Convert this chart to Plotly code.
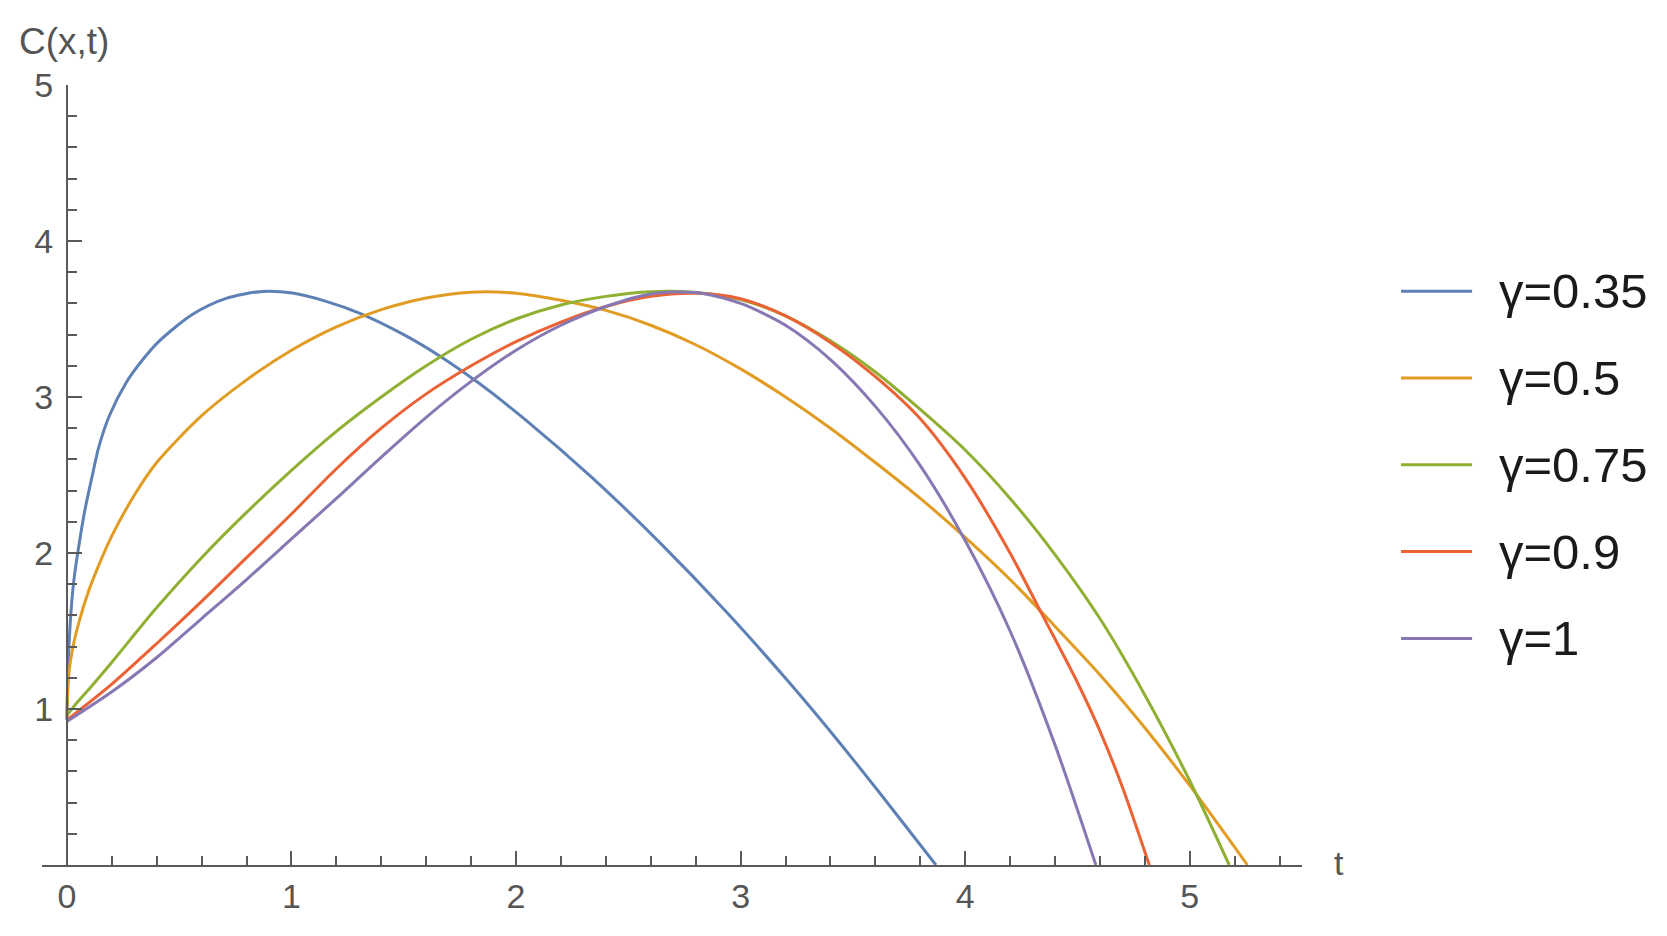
import plotly.graph_objects as go

# ---------------- data ----------------
series_names = ["γ=0.35", "γ=0.5", "γ=0.75", "γ=0.9", "γ=1"]
series_colors = ["#5E81B5", "#E19C24", "#8FB032", "#EB6235", "#8778B3"]

t_g035 = [0, 0.002, 0.006, 0.011, 0.02, 0.033, 0.059, 0.082, 0.112, 0.142, 0.189, 0.263,
          0.338, 0.412, 0.56, 0.709, 0.872, 1.005, 1.154, 1.302, 1.5, 1.658, 1.837, 2.045,
          2.341, 2.638, 2.935, 3.232, 3.43, 3.617, 3.87]
c_g035 = [0.93, 1.1, 1.3, 1.46, 1.66, 1.85, 2.10, 2.29, 2.49, 2.68, 2.88, 3.09,
          3.24, 3.36, 3.53, 3.632, 3.677, 3.666, 3.613, 3.538, 3.40, 3.265, 3.086, 2.85,
          2.48, 2.07, 1.625, 1.144, 0.803, 0.466, 0]

t_g05 = [0, 0.003, 0.012, 0.03, 0.056, 0.1, 0.15, 0.2, 0.3, 0.4, 0.6, 0.8, 1.0, 1.2, 1.4,
         1.6, 1.8, 2.0, 2.2, 2.4, 2.6, 2.8, 3.0, 3.2, 3.4, 3.6, 3.8, 4.0, 4.2, 4.4, 4.6,
         4.8, 5.0, 5.257]
c_g05 = [0.95, 1.1, 1.27, 1.42, 1.57, 1.77, 1.95, 2.11, 2.37, 2.58, 2.88, 3.11, 3.30, 3.45, 3.56,
         3.635, 3.672, 3.665, 3.62, 3.555, 3.46, 3.335, 3.18, 3.00, 2.80, 2.58, 2.35, 2.10, 1.83, 1.53, 1.22,
         0.88, 0.51, 0]

t_g075 = [0, 0.05, 0.1, 0.2, 0.4, 0.6, 0.8, 1.0, 1.2, 1.4, 1.6, 1.8, 2.0, 2.2, 2.4, 2.6,
          2.8, 3.0, 3.2, 3.4, 3.6, 3.8, 4.0, 4.2, 4.4, 4.6, 4.8, 5.0, 5.176]
c_g075 = [0.96, 1.05, 1.13, 1.30, 1.65, 1.97, 2.26, 2.53, 2.78, 3.00, 3.20, 3.37, 3.50, 3.59, 3.645, 3.675,
          3.67, 3.625, 3.52, 3.36, 3.16, 2.92, 2.66, 2.35, 1.99, 1.58, 1.09, 0.54, 0]

t_g09 = [0, 0.2, 0.4, 0.6, 0.8, 1.0, 1.2, 1.4, 1.6, 1.8, 2.0, 2.2, 2.4, 2.6, 2.8, 3.0,
         3.2, 3.4, 3.6, 3.8, 4.0, 4.2, 4.345, 4.5, 4.6, 4.7, 4.82]
c_g09 = [0.93, 1.16, 1.42, 1.69, 1.97, 2.25, 2.54, 2.80, 3.02, 3.20, 3.355, 3.48, 3.58, 3.645, 3.665, 3.63,
         3.52, 3.35, 3.13, 2.86, 2.48, 2.00, 1.60, 1.17, 0.86, 0.50, 0]

t_g1 = [0, 0.2, 0.4, 0.6, 0.8, 1.0, 1.2, 1.4, 1.6, 1.8, 2.0, 2.2, 2.4, 2.6, 2.8, 3.0,
        3.2, 3.4, 3.6, 3.8, 4.0, 4.2, 4.4, 4.582]
c_g1 = [0.92, 1.11, 1.33, 1.58, 1.83, 2.09, 2.35, 2.615, 2.87, 3.10, 3.30, 3.46, 3.58, 3.66, 3.67, 3.60,
        3.46, 3.24, 2.94, 2.56, 2.08, 1.50, 0.77, 0]

series_t = [t_g035, t_g05, t_g075, t_g09, t_g1]
series_c = [c_g035, c_g05, c_g075, c_g09, c_g1]

x_tick_vals = [0, 1, 2, 3, 4, 5]
y_tick_vals = [1, 2, 3, 4, 5]

# ---------------- figure ----------------
AXIS_COLOR = "#5a5a5a"
TEXT_GRAY = "#555555"
FONT = "Liberation Sans, Arial, sans-serif"
X_MIN, X_MAX = -0.111, 5.5
Y0_POS = (0 - X_MIN) / (X_MAX - X_MIN)

fig = go.Figure()
for name, color, tx, cy in zip(series_names, series_colors, series_t, series_c):
    fig.add_trace(go.Scatter(x=tx, y=cy, mode="lines", name=name,
                             line=dict(color=color, width=3, shape="spline", smoothing=0.8),
                             showlegend=False, hoverinfo="x+y+name"))

minor_ticks = dict(tickmode="linear", tick0=0, dtick=0.2, ticks="inside",
                   ticklen=9, tickwidth=1.5, tickcolor=AXIS_COLOR, showgrid=False)

fig.update_layout(
    width=1667, height=936,
    margin=dict(l=34, r=373, t=77, b=79),
    paper_bgcolor="white", plot_bgcolor="white",
    font=dict(family=FONT, color=TEXT_GRAY),
    xaxis=dict(range=[X_MIN, X_MAX], domain=[0, 1], showgrid=False, zeroline=False,
               showline=True, linecolor=AXIS_COLOR, linewidth=2,
               tickmode="array", tickvals=x_tick_vals, ticktext=[str(v) for v in x_tick_vals],
               ticks="inside", ticklen=14, tickwidth=2, tickcolor=AXIS_COLOR,
               ticklabelstandoff=0,
               tickfont=dict(size=34, color=TEXT_GRAY, family=FONT),
               minor=minor_ticks),
    yaxis=dict(range=[0, 5], domain=[0, 1], showgrid=False, zeroline=False,
               anchor="free", position=Y0_POS,
               showline=True, linecolor=AXIS_COLOR, linewidth=2,
               tickmode="array", tickvals=y_tick_vals, ticktext=[str(v) for v in y_tick_vals],
               ticks="inside", ticklen=14, tickwidth=2, tickcolor=AXIS_COLOR,
               ticklabelstandoff=6,
               tickfont=dict(size=34, color=TEXT_GRAY, family=FONT),
               minor=minor_ticks),
)

# axis labels
fig.add_annotation(text="C(x,t)", xref="paper", yref="paper",
                   x=Y0_POS - 0.002, y=1.0, yshift=44,
                   xanchor="center", yanchor="middle", showarrow=False,
                   font=dict(size=37, color=TEXT_GRAY, family=FONT))
fig.add_annotation(text="t", xref="paper", yref="paper", x=1.029, y=0.0, yshift=2,
                   xanchor="center", yanchor="middle", showarrow=False,
                   font=dict(size=34, color=TEXT_GRAY, family=FONT))

# legend drawn at the right
leg_top = 0.7357
leg_step = 0.1113
for i, (name, color) in enumerate(zip(series_names, series_colors)):
    yy = leg_top - i * leg_step
    fig.add_shape(type="line", xref="paper", yref="paper",
                  x0=1.0786, x1=1.135, y0=yy, y1=yy,
                  line=dict(color=color, width=3))
    fig.add_annotation(text=name, xref="paper", yref="paper", x=1.1548, y=yy,
                       xanchor="left", yanchor="middle", showarrow=False,
                       font=dict(size=49, color="#1a1a1a", family=FONT))

fig.write_html("out.html")
